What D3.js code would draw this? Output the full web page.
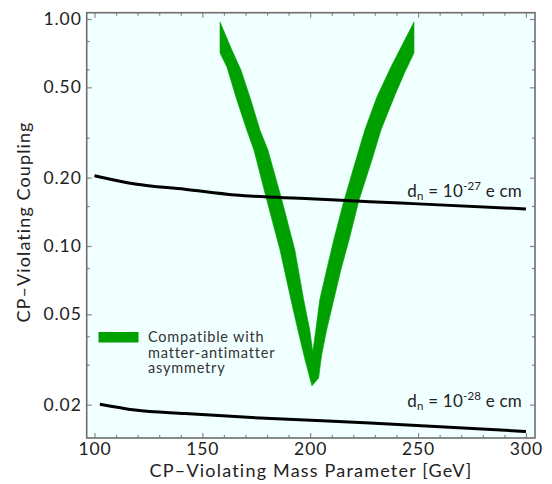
<!DOCTYPE html>
<html><head><meta charset="utf-8">
<script src="https://cdn.jsdelivr.net/npm/d3@7"></script>
<style>
html,body{margin:0;padding:0;background:#fff;}
svg{display:block;font-family:"Lato","Open Sans",sans-serif;}
</style></head>
<body><svg id="c" width="552" height="484"></svg>
<script>
// ---- data ----
const xMajorTicks = [100, 150, 200, 250, 300];
const xMinorTicks = [110,120,130,140,160,170,180,190,210,220,230,240,260,270,280,290];
const yMajorTicks = [0.02, 0.05, 0.10, 0.20, 0.50, 1.00];
const yMinorTicks = [0.03, 0.04, 0.08, 0.15, 0.3, 0.6, 0.8];

// d_n = 1e-27 e cm curve
const edm27Mass = [100, 118.8, 141.9, 165.1, 200, 227.7, 250, 300];
const edm27Coupling = [0.204, 0.1875, 0.1778, 0.1678, 0.1616, 0.1567, 0.1533, 0.1456];
// d_n = 1e-28 e cm curve
const edm28Mass = [102.5, 118.8, 141.9, 176.7, 227.7, 300];
const edm28Coupling = [0.0201, 0.01895, 0.01828, 0.01747, 0.01661, 0.01524];

// band compatible with matter-antimatter asymmetry (outline, clockwise)
const bandMass = [158.2,163.7,167.9,172.5,176.7,180.4,186.9,192.9,197.0,199.8,201.2,
  202.6,204.4,207.6,210.9,215.1,219.8,225.3,230.9,237.4,248.1,
  248.1,243.9,239.3,232.8,228.6,222.6,218.0,214.2,210.9,207.6,205.3,203.9,200.8,
  197.6,194.3,191.1,186.0,179.9,173.9,170.6,166.0,161.4,158.2];
const bandCoupling = [0.970,0.730,0.596,0.4396,0.324,0.265,0.159,0.096,0.0578,0.0426,0.0341,
  0.0426,0.0578,0.0784,0.1063,0.1516,0.216,0.324,0.453,0.614,0.970,
  0.708,0.584,0.463,0.324,0.2392,0.159,0.1063,0.0784,0.0578,0.0426,0.0331,0.0262,0.0242,
  0.0315,0.0426,0.0578,0.096,0.159,0.265,0.324,0.4396,0.614,0.708];

const legendLabel = ["Compatible with", "matter-antimatter", "asymmetry"];
const xTitle = "CP\u2013Violating Mass Parameter [GeV]";
const yTitle = "CP\u2013Violating Coupling";

// ---- layout ----
const L = 86.7, R = 535, T = 12.7, B = 438;
const FONT = "Lato, 'Open Sans', sans-serif";
const svg = d3.select("#c");
const x = d3.scaleLinear().domain([96.4, 304.2]).range([L, R]);
const y = d3.scaleLog().domain([0.01426, 1.066]).range([B, T]);

svg.append("rect").attr("x", L).attr("y", T).attr("width", R - L).attr("height", B - T)
  .attr("fill", "#f0ffff");

svg.append("defs").append("clipPath").attr("id", "clip").append("rect")
  .attr("x", L).attr("y", T).attr("width", R - L).attr("height", B - T);

const plot = svg.append("g").attr("clip-path", "url(#clip)");

// band
const bandPts = bandMass.map((m, i) => [m, bandCoupling[i]]);
plot.append("path")
  .attr("d", d3.line().x(d => x(d[0])).y(d => y(d[1]))(bandPts) + "Z")
  .attr("fill", "#00a000").attr("stroke", "#00a000").attr("stroke-width", 0.6)
  .attr("stroke-linejoin", "round");

// edm curves
const lineGen = d3.line().x(d => x(d[0])).y(d => y(d[1])).curve(d3.curveMonotoneX);
[[edm27Mass, edm27Coupling], [edm28Mass, edm28Coupling]].forEach(([ms, cs]) => {
  plot.append("path").attr("d", lineGen(ms.map((m, i) => [m, cs[i]])))
    .attr("fill", "none").attr("stroke", "#000").attr("stroke-width", 3);
});

// axes
const tickCol = "#888";
function styleAxis(g) {
  g.select(".domain").remove();
  g.selectAll(".tick line").attr("stroke", tickCol).attr("stroke-width", 1.2);
  g.selectAll(".tick text").attr("fill", "#222").attr("font-size", 17.5)
    .attr("font-family", FONT).style("letter-spacing", "0.9px");
}
svg.append("g").attr("transform", `translate(0,${B})`)
  .call(d3.axisBottom(x).tickValues(xMajorTicks).tickSize(-5).tickPadding(5).tickFormat(d3.format("d")))
  .call(styleAxis);
svg.append("g").attr("transform", `translate(0,${B})`)
  .call(d3.axisBottom(x).tickValues(xMinorTicks).tickSize(-3).tickFormat(""))
  .call(styleAxis);
svg.append("g").attr("transform", `translate(0,${T})`)
  .call(d3.axisTop(x).tickValues(xMajorTicks).tickSize(-5).tickFormat(""))
  .call(styleAxis);
svg.append("g").attr("transform", `translate(0,${T})`)
  .call(d3.axisTop(x).tickValues(xMinorTicks).tickSize(-3).tickFormat(""))
  .call(styleAxis);
svg.append("g").attr("transform", `translate(${L},0)`)
  .call(d3.axisLeft(y).tickValues(yMajorTicks).tickSize(-5).tickPadding(5).tickFormat(d3.format(".2f")))
  .call(styleAxis);
svg.append("g").attr("transform", `translate(${L},0)`)
  .call(d3.axisLeft(y).tickValues(yMinorTicks).tickSize(-3).tickFormat(""))
  .call(styleAxis);
svg.append("g").attr("transform", `translate(${R},0)`)
  .call(d3.axisRight(y).tickValues(yMajorTicks).tickSize(-5).tickFormat(""))
  .call(styleAxis);
svg.append("g").attr("transform", `translate(${R},0)`)
  .call(d3.axisRight(y).tickValues(yMinorTicks).tickSize(-3).tickFormat(""))
  .call(styleAxis);

// frame
svg.append("rect").attr("x", L).attr("y", T).attr("width", R - L).attr("height", B - T)
  .attr("fill", "none").attr("stroke", "#6e6e6e").attr("stroke-width", 1.6);

// titles
svg.append("text").attr("x", 311).attr("y", 477)
  .attr("text-anchor", "middle").attr("font-size", 18).attr("fill", "#222")
  .attr("font-family", FONT).style("letter-spacing", "1.2px").text(xTitle);
svg.append("text").attr("transform", "translate(30,222) rotate(-90)")
  .attr("text-anchor", "middle").attr("font-size", 18).attr("fill", "#222")
  .attr("font-family", FONT).style("letter-spacing", "1.1px").text(yTitle);

// curve labels
function edmLabel(yy, exp) {
  const t = svg.append("text").attr("x", 522).attr("y", yy).attr("text-anchor", "end")
    .attr("font-size", 17).attr("fill", "#222").attr("font-family", FONT)
    .style("letter-spacing", "0.2px");
  t.append("tspan").text("d");
  t.append("tspan").attr("font-size", 11.5).attr("dy", 3).text("n");
  t.append("tspan").attr("dy", -3).text(" = 10");
  t.append("tspan").attr("font-size", 11.5).attr("dy", -7).text(exp);
  t.append("tspan").attr("dy", 7).text(" e cm");
}
edmLabel(197, "-27");
edmLabel(407, "-28");

// legend
svg.append("rect").attr("x", 98.5).attr("y", 332).attr("width", 40).attr("height", 10.5)
  .attr("fill", "#00a000");
legendLabel.forEach((s, i) => {
  svg.append("text").attr("x", 148).attr("y", 342 + i * 15.5).attr("font-size", 14.5)
    .attr("fill", "#333").attr("font-family", FONT).style("letter-spacing", "0.8px").text(s);
});
</script></body></html>
